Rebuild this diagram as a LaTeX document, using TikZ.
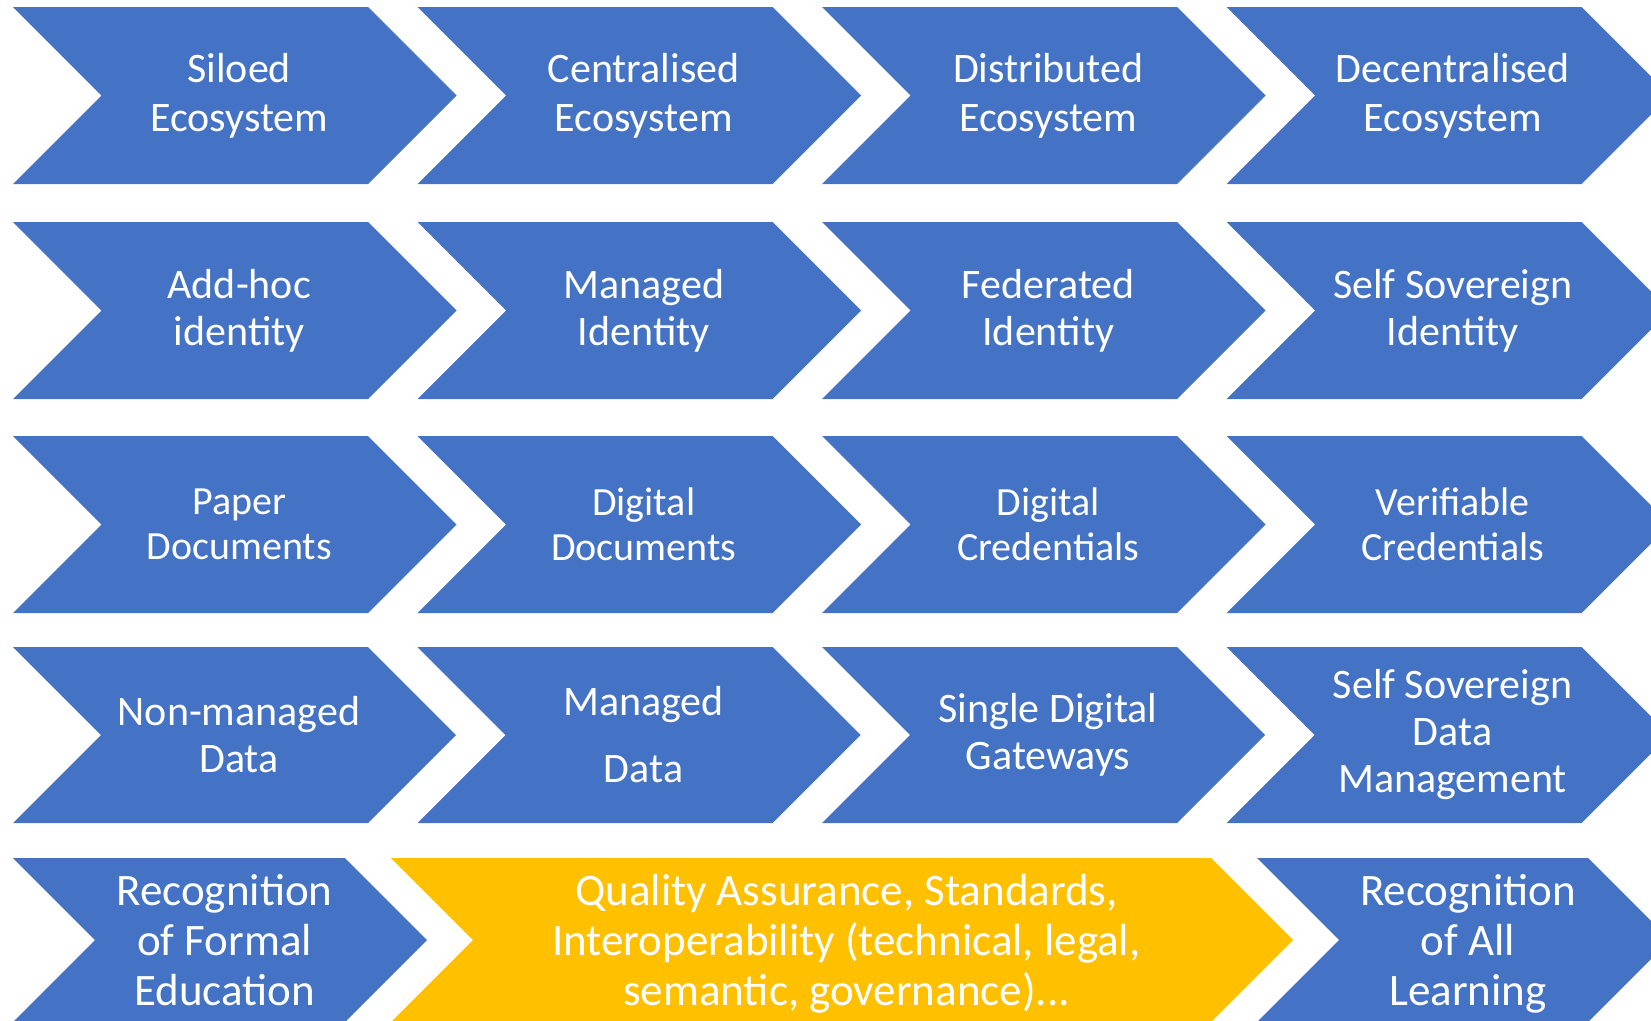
\documentclass[tikz,border=0pt]{standalone}
\usepackage{fontspec}
\setmainfont{Carlito}
\usepackage{tikz}
\usetikzlibrary{positioning}

\definecolor{chevblue}{HTML}{4472C4}
\definecolor{chevgold}{HTML}{FFC000}

\tikzset{
  blu/.style={fill=chevblue},
  yel/.style={fill=chevgold},
  lbl/.style={text=white, align=center, inner sep=0pt, xshift=4.5pt, font=\fontsize{42}{47}\selectfont},
  wide/.style={font=\fontsize{42}{49}\selectfont},
  small/.style={font=\fontsize{40}{45}\selectfont},
  big/.style={font=\fontsize{45}{50}\selectfont}
}

% chevron: [node options]{name}{style}{left x}{centre y}{top length}{half height}{text}
\newcommand{\chev}[8][]{%
  \fill[#3] (#4,#5-#7) -- ++(#6,0) -- ++(#7,#7) -- ++(-#7,#7) -- ++(-#6,0) -- ++(#7,-#7) -- cycle;
  \node[lbl,#1] (#2) at (#4+#7/2+#6/2,#5) {#8};}

\begin{document}
\begin{tikzpicture}[x=1pt,y=-1pt]
		\useasboundingbox (0,0) rectangle (1651,1020);
		\begin{scope}
		\clip (0,0) rectangle (1651,1020);
		% ecosystem
		\chev[wide]{sil}{blu}{13}{95.5}{355}{88.5}{Siloed\\Ecosystem}
		\chev[wide]{cen}{blu}{417.5}{95.5}{355}{88.5}{Centralised\\Ecosystem}
		\chev[wide]{dis}{blu}{822}{95.5}{355}{88.5}{Distributed\\Ecosystem}
		\chev[wide]{dec}{blu}{1226.5}{95.5}{355}{88.5}{Decentralised\\Ecosystem}
		% identity
		\chev{adh}{blu}{13}{310.5}{355}{88.5}{Add-hoc\\identity}
		\chev{mid}{blu}{417.5}{310.5}{355}{88.5}{Managed\\Identity}
		\chev{fid}{blu}{822}{310.5}{355}{88.5}{Federated\\Identity}
		\chev{ssi}{blu}{1226.5}{310.5}{355}{88.5}{Self Sovereign\\Identity}
		% documents
		\chev[small]{pap}{blu}{13}{524.5}{355}{88.5}{Paper\\Documents}
		\chev[small]{dig}{blu}{417.5}{524.5}{355}{88.5}{Digital\\Documents}
		\chev[small]{dcr}{blu}{822}{524.5}{355}{88.5}{Digital\\Credentials}
		\chev[small]{vcr}{blu}{1226.5}{524.5}{355}{88.5}{Verifiable\\Credentials}
		% data
		\chev{nmd}{blu}{13}{735}{355}{88}{Non-managed\\Data}
		\chev{mdt}{blu}{417.5}{735}{355}{88}{Managed\\[20pt]Data}
		\chev{sdg}{blu}{822}{735}{355}{88}{Single Digital\\Gateways}
		\chev{ssd}{blu}{1226.5}{735}{355}{88}{Self Sovereign\\Data\\Management}
		% learning
		\chev[big]{rfe}{blu}{13}{940}{332}{82}{Recognition\\of Formal\\Education}
		\chev[big,yshift=-4pt]{qas}{yel}{391}{940}{820}{82}{Quality Assurance, Standards,\\Interoperability (technical, legal,\\semantic, governance)...}
		\chev[big,yshift=-4pt]{ral}{blu}{1257}{940}{331}{82}{Recognition\\of All\\Learning}
		\end{scope}
		\end{tikzpicture}
\end{document}
